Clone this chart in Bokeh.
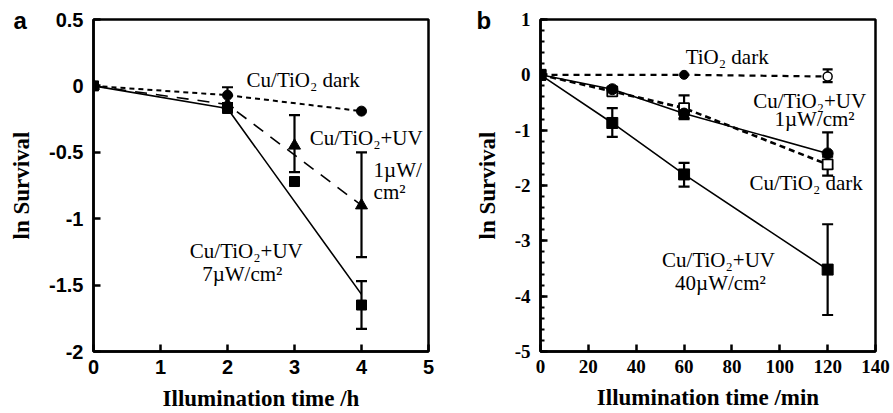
from bokeh.plotting import figure
from bokeh.layouts import row
from bokeh.models import (ColumnDataSource, Whisker, TeeHead, FixedTicker, Range1d)
from bokeh.embed import file_html
from bokeh.resources import INLINE
from bokeh.core.properties import value

# ---------------- Panel a data (time / h) ----------------
a_dark_t = [0, 2, 4]
a_dark_y = [0, -0.07, -0.19]
a_dark_err_t = [2]
a_dark_err_hi = [-0.01]
a_dark_err_lo = [-0.13]

a_uv1_t = [0, 2, 3, 4]
a_uv1_y = [0, -0.14, -0.45, -0.90]
a_uv1_line_t = [0, 2, 4]
a_uv1_line_y = [0, -0.14, -0.90]
a_uv1_err_t = [3, 4]
a_uv1_err_hi = [-0.22, -0.50]
a_uv1_err_lo = [-0.65, -1.29]

a_uv7_t = [0, 2, 3, 4]
a_uv7_y = [0, -0.17, -0.72, -1.65]
a_uv7_line_t = [0, 2, 4]
a_uv7_line_y = [0, -0.17, -1.57]
a_uv7_err_t = [4]
a_uv7_err_hi = [-1.47]
a_uv7_err_lo = [-1.83]

a_xticks = [0, 1, 2, 3, 4, 5]
a_yticks = [0.5, 0, -0.5, -1, -1.5, -2]
a_ytick_labels = ["0.5", "0", "-0.5", "-1", "-1.5", "-2"]

a_text = ["Cu/TiO\u2082 dark", "Cu/TiO\u2082+UV", "1\u00b5W/", "cm\u00b2", "Cu/TiO\u2082+UV", "7\u00b5W/cm\u00b2"]
a_text_x = [3.13, 4.07, 4.18, 4.18, 2.28, 2.22]
a_text_y = [0.045, -0.39, -0.63, -0.80, -1.24, -1.42]
a_text_align = ["center", "center", "left", "left", "center", "center"]

# ---------------- Panel b data (time / min) ----------------
b_tio2_t = [0, 60, 120]
b_tio2_y = [0, 0, -0.03]
b_tio2_err_t = [120]
b_tio2_err_hi = [0.10]
b_tio2_err_lo = [-0.13]

b_uv1_t = [0, 30, 60, 120]
b_uv1_y = [0, -0.26, -0.70, -1.42]
b_uv1_err_t = [60, 120]
b_uv1_err_hi = [-0.60, -1.04]
b_uv1_err_lo = [-0.80, -1.70]

b_dark_t = [0, 30, 60, 120]
b_dark_y = [0, -0.30, -0.60, -1.62]
b_dark_err_t = [60, 120]
b_dark_err_hi = [-0.37, -1.48]
b_dark_err_lo = [-0.78, -1.82]

b_uv40_t = [0, 30, 60, 120]
b_uv40_y = [0, -0.87, -1.80, -3.52]
b_uv40_err_t = [30, 60, 120]
b_uv40_err_hi = [-0.60, -1.59, -2.70]
b_uv40_err_lo = [-1.12, -2.02, -4.34]

b_xticks = [0, 20, 40, 60, 80, 100, 120, 140]
b_yticks = [1, 0, -1, -2, -3, -4, -5]

b_text = ["TiO\u2082 dark", "Cu/TiO\u2082+UV", "1\u00b5W/cm\u00b2", "Cu/TiO\u2082 dark", "Cu/TiO\u2082+UV", "40\u00b5W/cm\u00b2"]
b_text_x = [78, 112.5, 114.5, 111, 74.4, 75.2]
b_text_y = [0.32, -0.47, -0.80, -1.95, -3.35, -3.77]

panel_letters = ["a", "b"]

SERIF = "Liberation Serif"
SANS = "Liberation Sans"


def style(p, tick_font, tick_size, minor_y=0):
    p.outline_line_color = "black"
    p.outline_line_width = 2.5
    p.grid.visible = False
    for ax in (p.xaxis[0], p.yaxis[0]):
        ax.axis_line_width = 2.5
        ax.major_tick_line_width = 2.5
        ax.major_tick_in = 7
        ax.major_tick_out = 0
        ax.minor_tick_line_width = 2
        ax.minor_tick_in = 0
        ax.minor_tick_out = 0
        ax.major_label_text_font = tick_font
        ax.major_label_text_font_style = "bold"
        ax.major_label_text_font_size = tick_size
        ax.major_label_text_color = "black"
        ax.axis_label_text_font = SERIF
        ax.axis_label_text_font_style = "bold"
        ax.axis_label_text_font_size = "23px"
        ax.axis_label_text_color = "black"
    p.xaxis[0].major_label_standoff = 8
    p.yaxis[0].major_label_standoff = 10
    p.xaxis[0].axis_label_standoff = 9
    p.yaxis[0].axis_label_standoff = 12
    if minor_y:
        p.yaxis[0].minor_tick_in = 4


def letter(p, txt, offset):
    p.title.text = txt
    p.title.text_font = SANS
    p.title.text_font_style = "bold"
    p.title.text_font_size = "24px"
    p.title.text_color = "black"
    p.title.standoff = -29
    p.title.offset = offset


def whisk(p, xs, hi, lo, w=2.2, size=11):
    src = ColumnDataSource(dict(x=xs, hi=hi, lo=lo))
    wk = Whisker(source=src, base="x", upper="hi", lower="lo", line_width=w, line_color="black",
                 upper_head=TeeHead(size=size, line_width=w, line_color="black"),
                 lower_head=TeeHead(size=size, line_width=w, line_color="black"))
    p.add_layout(wk)


# ---------------- Figure a ----------------
pa = figure(width=447, height=413, output_backend="svg", toolbar_location=None,
            x_range=Range1d(0, 5), y_range=Range1d(-2, 0.5),
            min_border_left=93, min_border_right=19, min_border_top=19, min_border_bottom=60)
pa.background_fill_color = "white"
pa.border_fill_color = "white"
pa.xaxis.ticker = FixedTicker(ticks=a_xticks)
pa.yaxis.ticker = FixedTicker(ticks=a_yticks)
pa.yaxis.major_label_overrides = {t: l for t, l in zip(a_yticks, a_ytick_labels)}
pa.xaxis.axis_label = "Illumination time /h"
pa.yaxis.axis_label = "ln Survival"
style(pa, SANS, "20px")
letter(pa, panel_letters[0], -80)

pa.line(a_dark_t, a_dark_y, line_color="black", line_width=2, line_dash="5 4")
pa.line(a_uv1_line_t, a_uv1_line_y, line_color="black", line_width=1.6, line_dash="12 9")
pa.line(a_uv7_line_t, a_uv7_line_y, line_color="black", line_width=1.6)
whisk(pa, a_dark_err_t, a_dark_err_hi, a_dark_err_lo)
whisk(pa, a_uv1_err_t, a_uv1_err_hi, a_uv1_err_lo)
whisk(pa, a_uv7_err_t, a_uv7_err_hi, a_uv7_err_lo)
pa.scatter(a_dark_t, a_dark_y, marker="circle", size=10, fill_color="black", line_color="black")
pa.scatter(a_uv1_t, a_uv1_y, marker="triangle", size=12, fill_color="black", line_color="black")
pa.scatter(a_uv7_t, a_uv7_y, marker="square", size=10, fill_color="black", line_color="black")

pa.text(x=a_text_x, y=a_text_y, text=a_text, text_align=a_text_align, text_baseline="middle",
        text_font=value(SERIF), text_font_size="21px", text_color="black")

# ---------------- Figure b ----------------
pb = figure(width=446, height=413, output_backend="svg", toolbar_location=None,
            x_range=Range1d(0, 140), y_range=Range1d(-5, 1),
            min_border_left=93, min_border_right=18, min_border_top=19, min_border_bottom=60)
pb.background_fill_color = "white"
pb.border_fill_color = "white"
pb.xaxis.ticker = FixedTicker(ticks=b_xticks)
pb.yaxis.ticker = FixedTicker(ticks=b_yticks, minor_ticks=[-5 + 0.2 * i for i in range(31)])
pb.yaxis.major_label_overrides = {t: str(t) for t in b_yticks}
pb.xaxis.axis_label = "Illumination time /min"
pb.yaxis.axis_label = "ln Survival"
style(pb, SERIF, "19px", minor_y=1)
letter(pb, panel_letters[1], -64)

pb.line(b_tio2_t, b_tio2_y, line_color="black", line_width=2.2, line_dash="6 5")
pb.line(b_dark_t, b_dark_y, line_color="black", line_width=2.6, line_dash="6 4")
pb.line(b_uv1_t, b_uv1_y, line_color="black", line_width=1.6)
pb.line(b_uv40_t, b_uv40_y, line_color="black", line_width=1.6)
whisk(pb, b_tio2_err_t, b_tio2_err_hi, b_tio2_err_lo, size=10)
whisk(pb, b_uv1_err_t, b_uv1_err_hi, b_uv1_err_lo)
whisk(pb, b_dark_err_t, b_dark_err_hi, b_dark_err_lo)
whisk(pb, b_uv40_err_t, b_uv40_err_hi, b_uv40_err_lo)
pb.scatter(b_tio2_t[1:2], b_tio2_y[1:2], marker="circle", size=9, fill_color="black", line_color="black")
pb.scatter(b_tio2_t[2:], b_tio2_y[2:], marker="circle", size=9, fill_color="white", line_color="black", line_width=1.5)
pb.scatter(b_dark_t, b_dark_y, marker="square", size=10, fill_color="white", line_color="black", line_width=1.8)
pb.scatter(b_uv1_t, b_uv1_y, marker="circle", size=11, fill_color="black", line_color="black")
pb.scatter(b_uv40_t, b_uv40_y, marker="square", size=11, fill_color="black", line_color="black")

pb.text(x=b_text_x, y=b_text_y, text=b_text, text_align="center", text_baseline="middle",
        text_font=value(SERIF), text_font_size="21px", text_color="black")

layout = row(pa, pb)
open("out.html", "w").write(file_html(layout, INLINE))
